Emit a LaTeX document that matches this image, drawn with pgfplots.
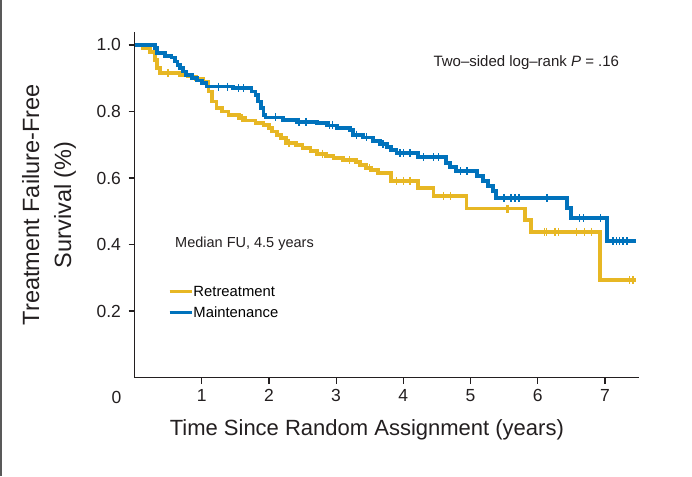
\documentclass[border=0pt]{standalone}
\usepackage{fontspec}
\setmainfont{Liberation Sans}
\usepackage{pgfplots}
\pgfplotsset{compat=1.18}
\definecolor{retr}{RGB}{231,183,36}
\definecolor{maint}{RGB}{0,114,188}
\definecolor{axc}{RGB}{35,31,32}
\begin{document}
\begin{tikzpicture}
\useasboundingbox (-134.5pt,-98.5pt) rectangle (557.5pt,377.5pt);
\fill[white] (-134.5pt,-98.5pt) rectangle (557.5pt,377.5pt);
\draw[black!65, line width=2pt] (-133.5pt,-98.5pt) -- (-133.5pt,377.5pt);
\begin{axis}[
  at={(0pt,0pt)}, anchor=south west,
  scale only axis, width=504pt, height=345.5pt,
  xmin=0, xmax=7.5, ymin=0, ymax=1.039,
  axis lines*=left,
  axis line style={-, line width=1.6pt, color=axc},
  tick style={line width=1.2pt, color=axc},
  major tick length=6pt, tick align=outside,
  xtick={1,2,3,4,5,6,7},
  ytick={0.2,0.4,0.6,0.8,1.0},
  /pgf/number format/assume math mode=true,
  yticklabel style={/pgf/number format/fixed, /pgf/number format/fixed zerofill, /pgf/number format/precision=1, /tikz/xshift=-4pt},
  ticklabel style={font=\fontsize{17.5}{20}\selectfont, color=axc},
  xticklabel style={/tikz/yshift=-2pt},
  xlabel={Time Since Random Assignment (years)},
  xlabel style={at={(axis description cs:0.461,-0.1505)}, anchor=center, font=\fontsize{22}{26}\selectfont, color=axc},
  ylabel={Treatment Failure-Free\\Survival (\%)},
  ylabel style={at={(axis description cs:-0.1696,0.5)}, anchor=center, align=center, font=\fontsize{23.5}{32}\selectfont, color=axc},
  clip=false,
  legend cell align=left,
  legend image code/.code={\draw[#1, line width=3.5pt] (0pt,0pt) -- (22pt,0pt);},
  legend style={draw=none, fill=none, at={(axis cs:0.4985,0.2265)}, anchor=west, inner sep=0pt, outer sep=0pt,
    font=\fontsize{14.8}{17}\selectfont, row sep=10.5pt,
    nodes={inner sep=0pt, text height=10.5pt, text depth=0pt},
    /tikz/every even column/.append style={column sep=4pt}},
]
\addplot[const plot, color=retr, line width=3.8pt] coordinates {
(0,1.0) (0.12,0.99) (0.23,0.98) (0.30,0.955) (0.34,0.93) (0.38,0.915)
(0.68,0.91) (0.80,0.905) (0.92,0.897) (1.02,0.888) (1.10,0.86) (1.15,0.83)
(1.22,0.81) (1.30,0.80) (1.40,0.79) (1.55,0.78) (1.65,0.773) (1.80,0.766)
(1.92,0.759) (2.00,0.75) (2.05,0.74) (2.12,0.73) (2.18,0.72) (2.26,0.706)
(2.40,0.698) (2.50,0.69) (2.62,0.68) (2.72,0.673) (2.85,0.665) (2.96,0.659)
(3.10,0.654) (3.30,0.647) (3.36,0.639) (3.45,0.63) (3.52,0.623) (3.62,0.615)
(3.82,0.591) (4.22,0.57) (4.45,0.546) (4.94,0.508) (5.81,0.474) (5.90,0.438)
(6.93,0.293) (7.47,0.293)
};
\addlegendentry{Retreatment}
\addplot[const plot, color=maint, line width=3.8pt] coordinates {
(0,1.0) (0.30,0.99) (0.33,0.975) (0.45,0.968) (0.55,0.962) (0.60,0.95)
(0.64,0.94) (0.68,0.93) (0.72,0.92) (0.77,0.91) (0.85,0.90) (0.93,0.893)
(1.00,0.885) (1.07,0.875) (1.47,0.87) (1.74,0.86) (1.80,0.85) (1.84,0.83)
(1.88,0.81) (1.92,0.79) (1.95,0.782) (2.21,0.775) (2.41,0.769) (2.71,0.765)
(2.86,0.758) (3.01,0.75) (3.21,0.744) (3.25,0.73) (3.40,0.722) (3.55,0.71)
(3.65,0.702) (3.76,0.692) (3.82,0.683) (3.90,0.675) (4.22,0.662) (4.64,0.645)
(4.70,0.632) (4.78,0.62) (5.10,0.605) (5.18,0.59) (5.26,0.575) (5.33,0.56)
(5.38,0.54) (6.43,0.51) (6.50,0.479) (7.03,0.41) (7.47,0.41)
};
\addlegendentry{Maintenance}
\addplot[only marks, forget plot, mark=|, mark size=4pt, color=retr, mark options={line width=1.4pt}] coordinates {
(0.5,0.915) (1.6,0.78) (2.3,0.706) (2.8,0.673) (3.2,0.654) (3.5,0.63)
(3.9,0.591) (4.0,0.591) (4.1,0.591) (4.6,0.546) (4.7,0.546) (5.54,0.508) (5.56,0.508)
(6.1,0.438) (6.13,0.438) (6.26,0.438) (6.31,0.438) (6.58,0.438) (6.7,0.438) (6.8,0.438)
(7.37,0.293) (7.42,0.293)
};
\addplot[only marks, forget plot, mark=|, mark size=4pt, color=maint, mark options={line width=1.4pt}] coordinates {
(1.25,0.875) (1.38,0.875) (1.55,0.87) (1.62,0.87) (2.1,0.782) (2.45,0.769) (2.55,0.769)
(2.9,0.758) (2.95,0.758) (3.3,0.73) (3.45,0.722) (3.7,0.702) (3.95,0.675) (4.0,0.675)
(4.1,0.675) (4.3,0.662) (4.45,0.662) (4.52,0.662) (4.85,0.62) (4.95,0.62)
(5.5,0.54) (5.6,0.54) (5.66,0.54) (5.72,0.54) (6.14,0.54) (6.62,0.479) (6.68,0.479)
(6.93,0.479) (7.12,0.41) (7.17,0.41) (7.22,0.41) (7.27,0.41) (7.33,0.41)
};
\node[font=\fontsize{15}{18}\selectfont, color=axc] at (axis cs:5.83,0.946) {Two–sided log–rank \textit{P} = .16};
\node[anchor=west, font=\fontsize{14.5}{17}\selectfont, color=axc] at (axis cs:0.553,0.401) {Median FU, 4.5 years};
\node[font=\fontsize{17.5}{20}\selectfont, color=axc] at (axis cs:0,0) [xshift=-18pt, yshift=-20pt] {0};
\end{axis}
\end{tikzpicture}
\end{document}
